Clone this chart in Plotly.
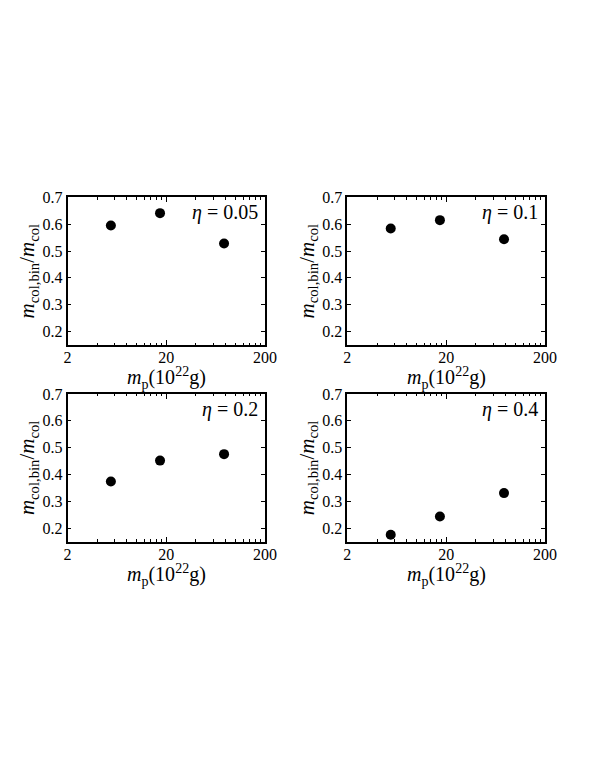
import plotly.graph_objects as go

# planetesimal mass (10^22 g) and fraction of collisional mass in binaries
m_p = [5.5, 17.3, 77]
eta_labels = ["0.05", "0.1", "0.2", "0.4"]
frac_005 = [0.595, 0.641, 0.528]
frac_01 = [0.584, 0.615, 0.544]
frac_02 = [0.374, 0.452, 0.476]
frac_04 = [0.176, 0.244, 0.331]

x_ticks = [2, 20, 200]
x_minor = [4, 6, 8, 10, 12, 14, 16, 18, 40, 60, 80, 100, 120, 140, 160, 180]
y_ticks = [0.2, 0.3, 0.4, 0.5, 0.6, 0.7]

FONT = "Liberation Serif"
# the page body adds an 8px margin, so the figure is drawn from (8, 8)
OFF = 8
W, H = 595 - OFF, 770 - OFF

# panel frames in page pixels (left, right, top, bottom)
panels = [
    (67.5, 265, 197.3, 345),
    (347.3, 545, 197.3, 345),
    (67.5, 265, 394, 541.7),
    (347.3, 545, 394, 541.7),
]
series = [frac_005, frac_01, frac_02, frac_04]

fig = go.Figure()

for i, (ys, lab, (l, r, t, b)) in enumerate(zip(series, eta_labels, panels)):
    n = "" if i == 0 else str(i + 1)
    fig.add_trace(go.Scatter(
        x=m_p, y=ys, mode="markers",
        marker=dict(color="black", size=10),
        xaxis="x" + n, yaxis="y" + n, showlegend=False
    ))
    axis_common = dict(
        showline=True, linecolor="black", linewidth=1.6, mirror="allticks",
        ticks="inside", tickcolor="black", showgrid=False, zeroline=False,
        automargin=False,
        tickfont=dict(family=FONT, size=16, color="black"),
    )
    fig.layout["xaxis" + n] = dict(
        axis_common,
        type="log", range=[0.30103, 2.30103],
        domain=[(l - OFF) / W, (r - OFF) / W], anchor="y" + n,
        tickmode="array", tickvals=x_ticks, ticktext=[str(v) for v in x_ticks],
        ticklen=5, tickwidth=1, ticklabelstandoff=-3,
        minor=dict(tickmode="array", tickvals=x_minor, ticks="inside",
                   ticklen=2.5, tickwidth=1, tickcolor="black", showgrid=False),
    )
    fig.layout["yaxis" + n] = dict(
        axis_common,
        range=[0.15, 0.7],
        domain=[1 - (b - OFF) / H, 1 - (t - OFF) / H], anchor="x" + n,
        tickmode="array", tickvals=y_ticks, ticktext=[f"{v:.1f}" for v in y_ticks],
        ticklen=4, tickwidth=1,
        title=dict(text="<i>m</i><sub>col,bin</sub>/<i>m</i><sub>col</sub>",
                   font=dict(family=FONT, size=21, color="black"), standoff=2),
    )
    # x title placed as annotation so it sits close under the tick labels
    fig.add_annotation(
        xref="x" + n + " domain", yref="y" + n + " domain",
        x=0.5, y=-0.225, xanchor="center", yanchor="middle",
        text="<i>m</i><sub>p</sub>(10<sup>22</sup>g)", showarrow=False,
        font=dict(family=FONT, size=20, color="black"),
    )
    fig.add_annotation(
        xref="x" + n + " domain", yref="y" + n + " domain",
        x=0.975, y=0.894, xanchor="right", yanchor="middle",
        text="<i>η</i> = " + lab, showarrow=False,
        font=dict(family=FONT, size=20, color="black"),
    )

fig.update_layout(
    width=W, height=H,
    margin=dict(l=0, r=0, t=0, b=0),
    paper_bgcolor="white", plot_bgcolor="white",
)

fig.write_html("out.html")
